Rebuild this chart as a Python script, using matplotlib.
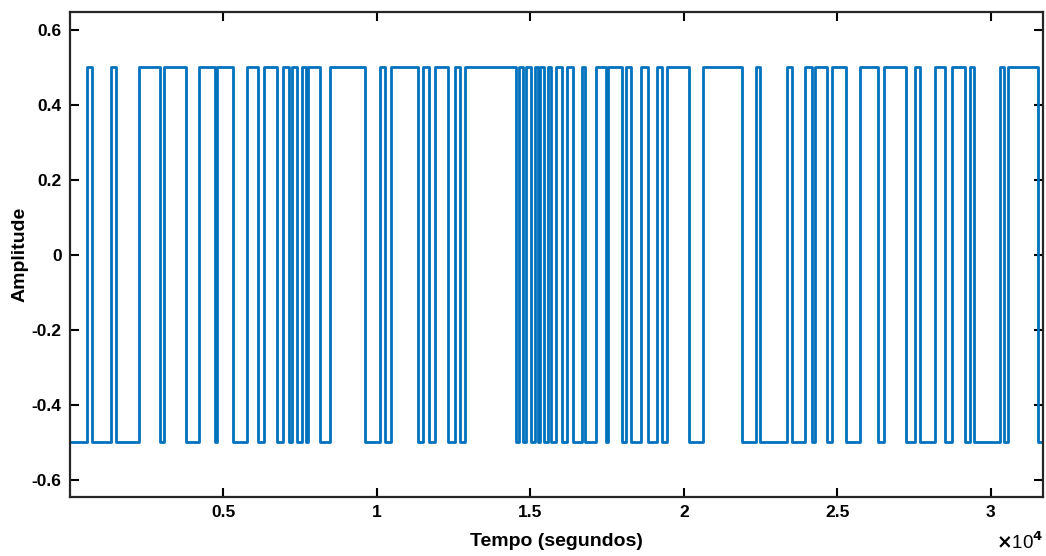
import numpy as np
import matplotlib.pyplot as plt

# Sinal binario aleatorio: instantes (s) em que o nivel alterna, partindo de -0.5
t_fim = 31700
nivel_inicial = -0.5
amplitude = 0.5
trocas = [567, 730, 1349, 1512, 2262, 2946, 3077, 3794, 4218, 4739, 4804, 5326,
          5782, 6141, 6336, 6760, 6955, 7151, 7249, 7412, 7575, 7705, 7770, 8161,
          8487, 9628, 10117, 10280, 10475, 11355, 11518, 11714, 11909, 12333,
          12561, 12724, 12887, 14517, 14615, 14745, 14875, 15006, 15136, 15234,
          15299, 15430, 15560, 15658, 15821, 16016, 16210, 16406, 16699, 16797,
          17155, 17481, 17546, 18003, 18133, 18296, 18622, 18818, 19111, 19274,
          19469, 20186, 20610, 21881, 22337, 22468, 23348, 23511, 23935, 24163,
          24261, 24652, 24815, 25271, 25727, 26314, 26509, 27226, 27520, 27683,
          28172, 28498, 28726, 29150, 29313, 29443, 30290, 30421, 30551, 31529]

y_ticks = [-0.6, -0.4, -0.2, 0, 0.2, 0.4, 0.6]
y_tick_labels = ['-0.6', '-0.4', '-0.2', '0', '0.2', '0.4', '0.6']
x_ticks = [5000, 10000, 15000, 20000, 25000, 30000]
x_tick_labels = ['0.5', '1', '1.5', '2', '2.5', '3']

# monta a forma de onda em degraus
t = [0]
y = [nivel_inicial]
nivel = nivel_inicial
for tc in trocas:
    t += [tc, tc]
    y += [nivel, -nivel]
    nivel = -nivel
t.append(t_fim)
y.append(nivel)

plt.rcParams['font.family'] = ['Liberation Sans', 'DejaVu Sans']
plt.rcParams['font.weight'] = 'bold'

fig = plt.figure(figsize=(10.46, 5.56), dpi=100)
ax = fig.add_axes([0.0669, 0.106, 0.9301, 0.8725])
ax.plot(t, y, color='#0072BD', linewidth=2.0)

ax.set_xlim(0, t_fim)
ax.set_ylim(-0.646, 0.648)
ax.set_xticks(x_ticks)
ax.set_xticklabels(x_tick_labels)
ax.set_yticks(y_ticks)
ax.set_yticklabels(y_tick_labels)
ax.tick_params(direction='in', length=6.5, width=1.5, labelsize=12.5,
               top=True, right=True, pad=6)
for s in ax.spines.values():
    s.set_linewidth(1.6)
    s.set_color('#262626')

ax.set_xlabel('Tempo (segundos)', fontsize=14, fontweight='bold', labelpad=9)
ax.set_ylabel('Amplitude', fontsize=14, fontweight='bold', labelpad=2)
ax.text(1.0, -0.07, r'$\times$10$^{4}$', transform=ax.transAxes,
        ha='right', va='top', fontsize=13.5, fontweight='normal')

fig.savefig('out.png', dpi=100)
